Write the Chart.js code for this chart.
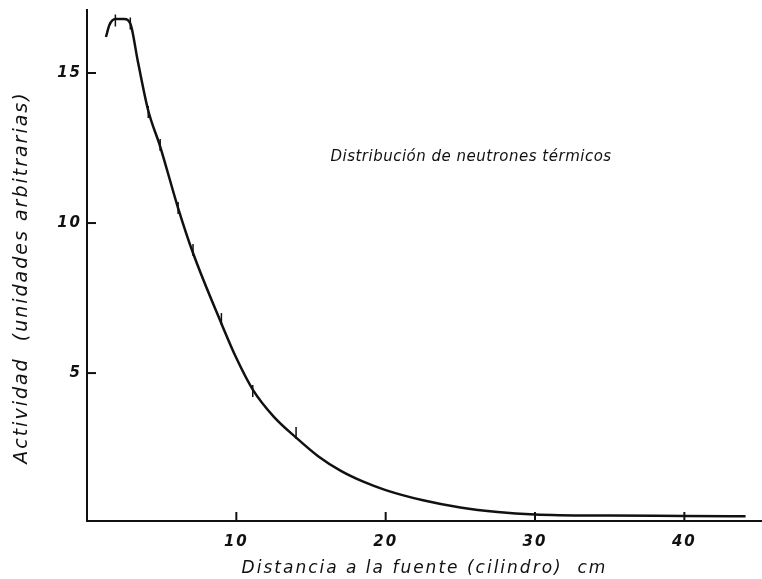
<!DOCTYPE html>
<html lang="es">
<head>
  <meta charset="UTF-8">
  <title>Distribución de neutrones térmicos</title>
  <script src="https://cdn.jsdelivr.net/npm/chart.js"></script>
  <style>
    body { margin: 0; background: #fff; overflow: hidden; }
    #wrap { width: 762px; height: 579px; }
    canvas { display: block; }
  </style>
</head>
<body>
  <div id="wrap"><canvas id="neutronChart" width="762" height="579"></canvas></div>

  <script>
    // fitted curve (distance cm, activity)
    const curveX = [1.27, 1.5, 1.9, 2.5, 2.9, 3.4, 4.1, 4.9, 6.1, 7.1, 9.0, 10.0, 11.1, 12.5, 14.0, 15.5, 17.0, 18.5, 20.0, 22.5, 25.0, 27.5, 30.0, 35.0, 40.0, 44.1];
    const curveY = [16.2, 16.6, 16.8, 16.8, 16.65, 15.4, 13.75, 12.55, 10.5, 9.0, 6.65, 5.5, 4.45, 3.55, 2.85, 2.22, 1.74, 1.38, 1.1, 0.76, 0.52, 0.37, 0.29, 0.25, 0.24, 0.23];

    // measured points (drawn as short error bars)
    const measX = [1.9, 2.9, 4.1, 4.9, 6.1, 7.1, 9.0, 11.1, 14.0];
    const measY = [16.75, 16.65, 13.7, 12.6, 10.5, 9.1, 6.8, 4.4, 3.0];

    const xTickValues = [10, 20, 30, 40];
    const yTickValues = [5, 10, 15];

    const titleText = 'Distribución de neutrones térmicos';
    const xTitle = 'Distancia a la fuente (cilindro)  cm';
    const yTitle = 'Actividad  (unidades arbitrarias)   ';

    const ink = '#111';
    const fontFam = "'DejaVu Sans', sans-serif";

    // hand lettering is wide: open up the spacing of the library's own text
    const wideText = {
      id: 'wideText',
      beforeDraw(chart) { chart.ctx.letterSpacing = '2px'; },
      afterDraw(chart) { chart.ctx.letterSpacing = '0px'; }
    };

    // small inward tick marks + the note inside the plot
    const innerMarks = {
      id: 'innerMarks',
      afterDatasetsDraw(chart) {
        const { ctx, chartArea, scales } = chart;
        ctx.save();
        ctx.strokeStyle = ink;
        ctx.lineWidth = 2;
        scales.x.ticks.forEach(t => {
          const px = scales.x.getPixelForValue(t.value);
          ctx.beginPath();
          ctx.moveTo(px, chartArea.bottom);
          ctx.lineTo(px, chartArea.bottom - 9);
          ctx.stroke();
        });
        scales.y.ticks.forEach(t => {
          const py = scales.y.getPixelForValue(t.value);
          ctx.beginPath();
          ctx.moveTo(chartArea.left, py);
          ctx.lineTo(chartArea.left + 9, py);
          ctx.stroke();
        });
        ctx.fillStyle = ink;
        ctx.letterSpacing = '0.5px';
        ctx.font = 'italic 15px ' + fontFam;
        ctx.textBaseline = 'middle';
        ctx.fillText(titleText, scales.x.getPixelForValue(16.3), scales.y.getPixelForValue(12.2));
        ctx.restore();
      }
    };

    const noPad = s => { s.paddingTop = 0; s.paddingBottom = 0; s.paddingLeft = 0; s.paddingRight = 0; };

    const config = {
      type: 'line',
      data: {
        datasets: [
          {
            label: 'curva',
            data: curveX.map((x, i) => ({ x: x, y: curveY[i] })),
            borderColor: ink,
            borderWidth: 2.5,
            pointRadius: 0,
            cubicInterpolationMode: 'monotone',
            fill: false
          },
          {
            label: 'medidas',
            type: 'scatter',
            data: measX.map((x, i) => ({ x: x, y: measY[i] })),
            pointStyle: 'line',
            rotation: 90,
            pointRadius: 6,
            borderColor: ink,
            borderWidth: 1.5
          }
        ]
      },
      options: {
        responsive: false,
        animation: false,
        layout: { autoPadding: false, padding: { top: 10, right: 0, left: 0, bottom: 0 } },
        plugins: {
          legend: { display: false },
          tooltip: { enabled: false }
        },
        scales: {
          x: {
            type: 'linear',
            min: 0,
            max: 45.2,
            afterBuildTicks: s => { s.ticks = xTickValues.map(v => ({ value: v })); },
            afterFit: s => { s.height = 58; noPad(s); },
            grid: { display: false, drawTicks: false },
            border: { color: ink, width: 2 },
            ticks: {
              color: ink,
              padding: 12,
              font: { family: fontFam, size: 15, style: 'italic', weight: 'bold' }
            },
            title: {
              display: true,
              text: xTitle,
              color: ink,
              padding: { top: 11, bottom: 0 },
              font: { family: fontFam, size: 17, style: 'italic' }
            }
          },
          y: {
            min: 0.07,
            max: 17.1,
            afterBuildTicks: s => { s.ticks = yTickValues.map(v => ({ value: v })); },
            afterFit: s => { s.width = 87; noPad(s); },
            grid: { display: false, drawTicks: false },
            border: { color: ink, width: 2 },
            ticks: {
              color: ink,
              padding: 5,
              font: { family: fontFam, size: 15, style: 'italic', weight: 'bold' }
            },
            title: {
              display: true,
              text: yTitle,
              color: ink,
              padding: { top: 11, bottom: 0 },
              font: { family: fontFam, size: 19, style: 'italic' }
            }
          }
        }
      },
      plugins: [wideText, innerMarks]
    };

    new Chart(document.getElementById('neutronChart'), config);
  </script>
</body>
</html>
